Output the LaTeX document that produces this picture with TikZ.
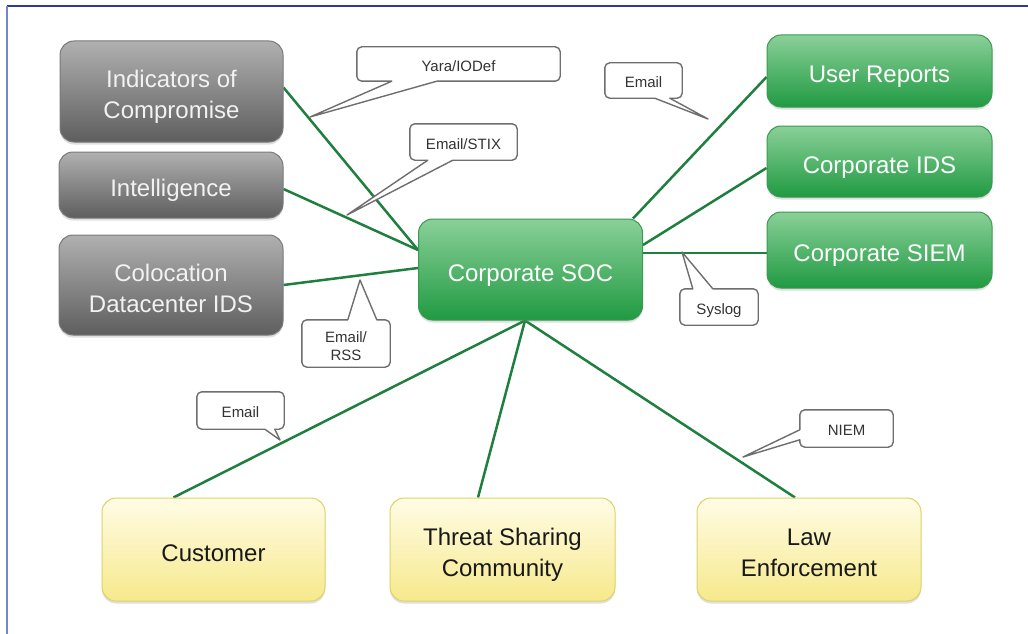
\documentclass[tikz,border=0pt]{standalone}
\usepackage{fontspec}
\setmainfont{Liberation Sans}
\usetikzlibrary{calc,shadows}
\pgfdeclarelayer{bg}
\pgfsetlayers{bg,main}
\definecolor{linkgreen}{HTML}{1F7F3E}
\definecolor{frametop}{HTML}{2B3D9A}
\definecolor{frameleft}{HTML}{7585C5}
\definecolor{graytop}{HTML}{B0B0B0}
\definecolor{graybot}{HTML}{5E5E5E}
\definecolor{grayedge}{HTML}{7A7A7A}
\definecolor{greentop}{HTML}{8AD098}
\definecolor{greenbot}{HTML}{209A42}
\definecolor{greenedge}{HTML}{3A9A52}
\definecolor{yeltop}{HTML}{FFFCE6}
\definecolor{yelbot}{HTML}{F6E98C}
\definecolor{yeledge}{HTML}{E2D165}
\definecolor{callgray}{HTML}{6E6E6E}
\tikzset{
  box/.style={rounded corners=14pt, line width=1pt, align=center, inner sep=0pt,
    font=\fontsize{24}{31}\selectfont,
    drop shadow={opacity=0.25, shadow xshift=0pt, shadow yshift=-2.5pt}},
  oneline/.style={text height=23.2pt, text depth=0pt},
  twoline/.style={text height=54.2pt, text depth=0pt},
  graybox/.style={box, draw=grayedge, top color=graytop, bottom color=graybot, text=white!95!black},
  greenbox/.style={box, draw=greenedge, top color=greentop, bottom color=greenbot, text=white},
  yelbox/.style={box, draw=yeledge, top color=yeltop, bottom color=yelbot, text=black!90},
  link/.style={draw=linkgreen, line width=2.5pt},
  ctext/.style={inner sep=0pt, align=center, font=\fontsize{15}{18}\selectfont, text=black!80},
  cone/.style={text height=14.2pt, text depth=0pt},
  ctwo/.style={text height=34.7pt, text depth=0pt},
  callout/.style={draw=callgray, line width=1.4pt, fill=white, line join=round},
}
\begin{document}
\begin{tikzpicture}[x=1pt, y=-1pt]
\useasboundingbox (0,0) rectangle (1028,634);
\begin{pgfonlayer}{bg}
\fill[white] (0,0) rectangle (1028,634);
\end{pgfonlayer}
% frame
\draw[frametop, line width=1.5pt] (7,6) -- (1028,6);
\draw[frameleft, line width=2.5pt] (7,6) -- (7,634);

% boxes
\node[graybox, twoline, minimum width=223pt, minimum height=101pt] (ioc) at (171.5,91.5) {Indicators of\\Compromise};
\node[graybox, oneline, minimum width=224pt, minimum height=66pt] (intel) at (171,185) {Intelligence};
\node[graybox, twoline, minimum width=224pt, minimum height=100pt] (colo) at (171,285) {Colocation\\Datacenter IDS};
\node[greenbox, oneline, minimum width=224pt, minimum height=101pt] (soc) at (530.5,269.5) {Corporate SOC};
\node[greenbox, oneline, minimum width=225pt, minimum height=72pt] (user) at (879.5,71) {User Reports};
\node[greenbox, oneline, minimum width=225pt, minimum height=71pt] (cids) at (879.5,161.5) {Corporate IDS};
\node[greenbox, oneline, minimum width=225pt, minimum height=76pt] (siem) at (879.5,250) {Corporate SIEM};
\node[yelbox, oneline, minimum width=223pt, minimum height=103pt] (cust) at (213.5,549.5) {Customer};
\node[yelbox, twoline, minimum width=225pt, minimum height=103pt] (threat) at (502.5,549.5) {Threat Sharing\\Community};
\node[yelbox, twoline, minimum width=224pt, minimum height=103pt] (law) at (809,549.5) {Law\\Enforcement};

% callout texts
\node[ctext, cone, minimum width=203pt, minimum height=34pt] (yara) at (458.5,64) {Yara/IODef};
\node[ctext, cone, minimum width=107pt, minimum height=36pt] (stix) at (463.5,142) {Email/STIX};
\node[ctext, ctwo, minimum width=88pt, minimum height=47pt] (rss) at (346,343.5) {Email/\\RSS};
\node[ctext, cone, minimum width=77pt, minimum height=35pt] (emailtop) at (643.5,80.5) {Email};
\node[ctext, cone, minimum width=78pt, minimum height=36pt] (syslog) at (719,307) {Syslog};
\node[ctext, cone, minimum width=87pt, minimum height=37pt] (emailbot) at (240.5,410.5) {Email};
\node[ctext, cone, minimum width=93pt, minimum height=37pt] (niem) at (846.5,428.5) {NIEM};

\coordinate (yaratip) at (310,117);
\coordinate (stixtip) at (347,215);
\coordinate (rsstip) at (360,280);
\coordinate (emailtoptip) at (708,119);
\coordinate (syslogtip) at (682,252);
\coordinate (emailbottip) at (280,440);
\coordinate (niemtip) at (743,457);

\begin{pgfonlayer}{bg}
% connectors
\draw[link] ($(ioc.east)+(0,-4)$) -- ($(soc.west)+(0,-19.5)$);
\draw[link] ($(intel.east)+(0,4)$) -- ($(soc.west)+(0,-19.5)$);
\draw[link] (colo.east) -- ($(soc.west)+(0,-1.5)$);
\draw[link] ($(user.west)+(0,6)$) -- ($(soc.north east)+(-10,0)$);
\draw[link] ($(cids.west)+(0,6.5)$) -- ($(soc.east)+(0,-24.5)$);
\draw[link] ($(siem.west)+(0,3)$) -- ($(soc.east)+(0,-16.5)$);
\draw[link] ($(soc.south)+(-5.5,0)$) -- ($(cust.north)+(-40,0)$);
\draw[link] ($(soc.south)+(-5.5,0)$) -- ($(threat.north)+(-24.5,0)$);
\draw[link] ($(soc.south)+(-5.5,0)$) -- ($(law.north)+(-14,0)$);

% callout outlines
\draw[callout] ($(yara.south west)+(35,0)$) [rounded corners=5pt] -- (yara.south west) -- (yara.north west) -- (yara.north east) -- (yara.south east) [sharp corners] -- ($(yara.south west)+(80,0)$) -- (yaratip) -- cycle;
\draw[callout] ($(stix.south west)+(18,0)$) [rounded corners=5pt] -- (stix.south west) -- (stix.north west) -- (stix.north east) -- (stix.south east) [sharp corners] -- ($(stix.south west)+(43,0)$) -- (stixtip) -- cycle;
\draw[callout] ($(rss.north west)+(75,0)$) [rounded corners=5pt] -- (rss.north east) -- (rss.south east) -- (rss.south west) -- (rss.north west) [sharp corners] -- ($(rss.north west)+(46,0)$) -- (rsstip) -- cycle;
\draw[callout] ($(emailtop.south west)+(50,0)$) [rounded corners=5pt] -- (emailtop.south west) -- (emailtop.north west) -- (emailtop.north east) -- (emailtop.south east) [sharp corners] -- ($(emailtop.south west)+(65,0)$) -- (emailtoptip) -- cycle;
\draw[callout] ($(syslog.north west)+(33,0)$) [rounded corners=5pt] -- (syslog.north east) -- (syslog.south east) -- (syslog.south west) -- (syslog.north west) [sharp corners] -- ($(syslog.north west)+(13,0)$) -- (syslogtip) -- cycle;
\draw[callout] ($(emailbot.south west)+(68,0)$) [rounded corners=5pt] -- (emailbot.south west) -- (emailbot.north west) -- (emailbot.north east) -- (emailbot.south east) [sharp corners] -- ($(emailbot.south west)+(78,0)$) -- (emailbottip) -- cycle;
\draw[callout] ($(niem.north west)+(0,30)$) [rounded corners=5pt] -- (niem.south west) -- (niem.south east) -- (niem.north east) -- (niem.north west) [sharp corners] -- ($(niem.north west)+(0,20)$) -- (niemtip) -- cycle;
\end{pgfonlayer}
\end{tikzpicture}
\end{document}
